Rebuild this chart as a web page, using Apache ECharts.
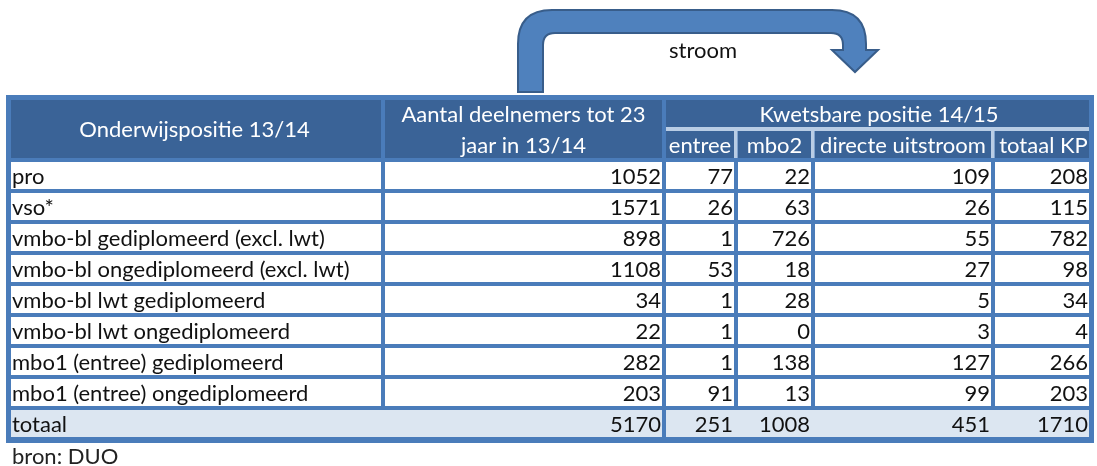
<!DOCTYPE html>
<html>
<head>
<meta charset="utf-8">
<script src="https://cdn.jsdelivr.net/npm/echarts@6/dist/echarts.min.js"></script>
<style>
html, body { margin: 0; padding: 0; background: #fff; }
#main { width: 1097px; height: 466px; }
</style>
</head>
<body>
<div id="main"></div>
<script>
// gegevens
var rowLabels = [
  'pro',
  'vso*',
  'vmbo-bl gediplomeerd (excl. lwt)',
  'vmbo-bl ongediplomeerd (excl. lwt)',
  'vmbo-bl lwt gediplomeerd',
  'vmbo-bl lwt ongediplomeerd',
  'mbo1 (entree) gediplomeerd',
  'mbo1 (entree) ongediplomeerd'
];
var deelnemers = [1052, 1571, 898, 1108, 34, 22, 282, 203];
var entree = [77, 26, 1, 53, 1, 1, 1, 91];
var mbo2 = [22, 63, 726, 18, 28, 0, 138, 13];
var directe = [109, 26, 55, 27, 5, 3, 127, 99];
var totaalKP = [208, 115, 782, 98, 34, 4, 266, 203];
var totaalLabel = 'totaal';
var totaalRow = [5170, 251, 1008, 451, 1710];
var subHeaders = ['entree', 'mbo2', 'directe uitstroom', 'totaal KP'];

// kolomgrenzen (in tabel-eenheden)
var colEdges = [0, 377, 658, 730, 807, 987, 1088];
var LAST_COL = colEdges.length - 1;
var LAST_ROW = rowLabels.length + 2;

var FONT = '22px Lato';
var LINE = '#4a7cba';
var HEAD = '#3a6397';
var SEP = '#b9cde5';
var TOTAL = '#dce6f1';

var cells = [];
function cell(c0, c1, r0, r1, kind, text, align) {
  cells.push({ c0: c0, c1: c1, r0: r0, r1: r1, kind: kind, text: text, align: align });
}

cell(0, LAST_COL, 0, LAST_ROW, 'frame');
// kop
cell(0, 1, 0, 1, 'head', 'Onderwijspositie 13/14', 'center');
cell(1, 2, 0, 1, 'head', 'Aantal deelnemers tot 23\njaar in 13/14', 'center');
cell(2, 6, 0, 0, 'head', 'Kwetsbare positie 14/15', 'center');
subHeaders.forEach(function (t, i) {
  cell(2 + i, 3 + i, 1, 1, 'head', t, 'center');
});
cell(2, 6, 0, 0, 'sepH');
for (var k = 3; k < 6; k++) cell(k, k, 1, 1, 'sepV');

// rijen
rowLabels.forEach(function (lab, i) {
  var r = i + 2;
  cell(0, 1, r, r, 'body', lab, 'left');
  cell(1, 2, r, r, 'body', String(deelnemers[i]), 'right');
  cell(2, 3, r, r, 'body', String(entree[i]), 'right');
  cell(3, 4, r, r, 'body', String(mbo2[i]), 'right');
  cell(4, 5, r, r, 'body', String(directe[i]), 'right');
  cell(5, 6, r, r, 'body', String(totaalKP[i]), 'right');
});

// totaal
cell(0, 2, LAST_ROW, LAST_ROW, 'total', totaalLabel, 'left');
cell(2, 6, LAST_ROW, LAST_ROW, 'total');
totaalRow.forEach(function (v, i) {
  cell(1 + i, 2 + i, LAST_ROW, LAST_ROW, 'text', String(v), 'right');
});

var yCats = [];
for (var j = 0; j <= LAST_ROW; j++) yCats.push('r' + j);

function renderItem(params, api) {
  var c = cells[params.dataIndex];
  var bandH = api.size([0, 1])[1];
  var xL = api.coord([colEdges[c.c0], 0])[0];
  var xR = api.coord([colEdges[c.c1], 0])[0];
  var yT = api.coord([0, c.r0])[1] - bandH / 2;
  var yB = api.coord([0, c.r1])[1] + bandH / 2;

  if (c.kind === 'frame') {
    return { type: 'rect', shape: { x: xL, y: yT - 3, width: xR - xL, height: yB - yT + 7 }, style: { fill: LINE } };
  }
  if (c.kind === 'sepH') {
    return { type: 'rect', shape: { x: xL + 2, y: yB - 2, width: xR - xL - 7, height: 4 }, style: { fill: SEP } };
  }
  if (c.kind === 'sepV') {
    return { type: 'rect', shape: { x: xL - 2, y: yT + 2, width: 3.5, height: yB - yT - 4 }, style: { fill: SEP } };
  }

  var il = c.c0 === 0 ? 5 : 2;
  var ir = c.c1 === LAST_COL ? 5 : 2;
  var it = 2, ib = 2;
  var children = [];
  if (c.kind !== 'text') {
    children.push({
      type: 'rect',
      shape: { x: xL + il, y: yT + it, width: xR - xL - il - ir, height: yB - yT - it - ib },
      style: { fill: c.kind === 'head' ? HEAD : c.kind === 'total' ? TOTAL : '#ffffff' }
    });
  }
  if (c.text != null) {
    var tx = c.align === 'left' ? xL + il + 1 : c.align === 'right' ? xR - ir - 1 : (xL + xR) / 2;
    children.push({
      type: 'text',
      style: {
        text: c.text,
        x: tx,
        y: (yT + yB) / 2 + 1,
        align: c.align,
        verticalAlign: 'middle',
        lineHeight: 31,
        font: FONT,
        fill: c.kind === 'head' ? '#ffffff' : '#111111'
      }
    });
  }
  return { type: 'group', children: children };
}

// pijl "stroom" boven de tabel
function renderArrow(params, api) {
  return {
    type: 'path',
    shape: {
      pathData: 'M518 92 L518 44 Q518 10 552 10 L832 10 Q866 10 866 44 L866 50 L878 50 L855 72 L832 50 L843 50 L843 45 Q843 33 831 33 L555 33 Q543 33 543 45 L543 92 Z',
      layout: 'center',
      x: 518, y: 10, width: 360, height: 82
    },
    style: { fill: '#4f81bd', stroke: '#385d8a', lineWidth: 2 }
  };
}

var chart = echarts.init(document.getElementById('main'), null, { renderer: 'canvas' });
chart.setOption({
  animation: false,
  backgroundColor: '#ffffff',
  grid: { left: 6, right: 3, top: 98, bottom: 27 },
  xAxis: { type: 'value', min: 0, max: colEdges[LAST_COL], show: false },
  yAxis: { type: 'category', data: yCats, inverse: true, show: false },
  series: [{
    type: 'custom',
    renderItem: renderItem,
    data: cells.map(function (c) { return [colEdges[c.c0], c.r0]; }),
    silent: true
  }, {
    type: 'custom',
    coordinateSystem: 'none',
    renderItem: renderArrow,
    data: [[0]],
    silent: true
  }],
  graphic: [
    {
      type: 'text',
      style: { text: 'stroom', x: 703, y: 51, align: 'center', verticalAlign: 'middle', font: FONT, fill: '#111111' }
    },
    {
      type: 'text',
      style: { text: 'bron: DUO', x: 12, y: 457, align: 'left', verticalAlign: 'middle', font: FONT, fill: '#222222' }
    }
  ]
});
</script>
</body>
</html>
